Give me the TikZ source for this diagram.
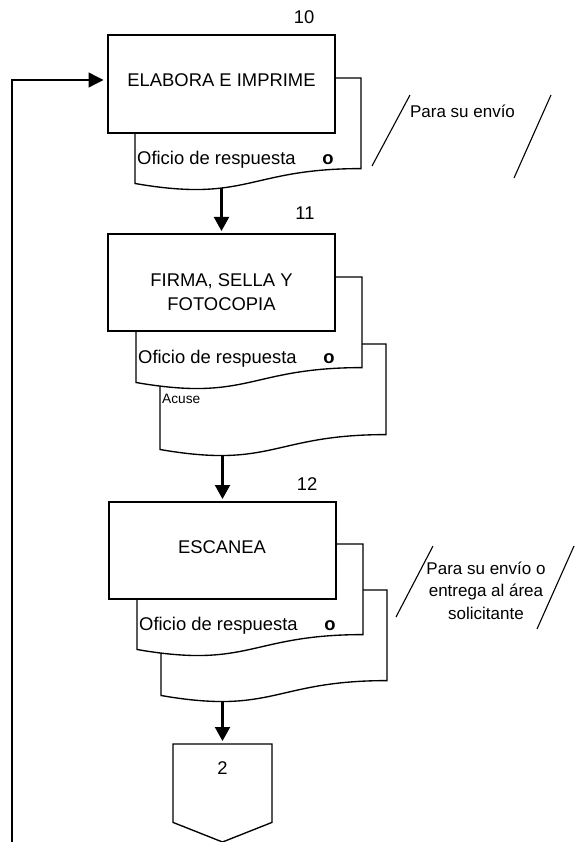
\documentclass[tikz,border=0pt]{standalone}
\usepackage{fontspec}
\setmainfont{Liberation Sans}
\usetikzlibrary{arrows.meta,backgrounds}
\tikzset{
  procbox/.style={draw, line width=2.4pt, fill=white, inner sep=0pt, outer sep=0pt, minimum width=227pt},
  docshape/.style={draw, line width=1.35pt, fill=white, line join=miter},
  flow/.style={line width=2.1pt, -{Triangle[length=14pt,width=15pt]}, shorten >=3pt},
  feedback/.style={line width=1.4pt, -{Triangle[length=15pt,width=15pt]}, shorten >=4.5pt},
  bigtxt/.style={font=\fontsize{18.4}{24}\selectfont, inner sep=0pt},
  boldtxt/.style={font=\fontsize{18.4}{24}\selectfont\bfseries, inner sep=0pt, anchor=base},
  doctxt/.style={font=\fontsize{18.4}{22}\selectfont, inner sep=0pt, anchor=base west},
  smalltxt/.style={font=\fontsize{13.7}{16}\selectfont, inner sep=0pt, anchor=base west},
  notetxt/.style={font=\fontsize{17}{22.6}\selectfont, inner sep=0pt, align=center},
  slash/.style={line width=1.1pt},
}
\newcommand\docsheet[3]{% name, left, top
  \draw[docshape] (#2,#3) coordinate (#1-nw) -- (#2+226,#3) -- (#2+226,#3+90.6) coordinate (#1-se)
    .. controls (#2+113,#3+90.6) and (#2+113,#3+125.1) .. (#2,#3+105.5) coordinate (#1-sw) -- cycle;
  \coordinate (#1-in) at (221.5,#3+100);
}
\begin{document}
\begin{tikzpicture}[x=1pt,y=-1pt]
\useasboundingbox (0,0) rectangle (579,842);

% ---- step 10
\docsheet{d1}{135}{78}
\node[procbox, minimum height=98pt] (b1) at (221.5,84) {};
\node[bigtxt, anchor=base] (t1) at (221.5,87) {ELABORA E IMPRIME};
\node[bigtxt, anchor=base] (n10) at (304,24) {10};
\node[doctxt] (o1) at (137,164.6) {Oficio de respuesta};
\node[boldtxt] (x1) at (328,164.6) {o};

% ---- step 11
\docsheet{d2b}{160}{344}
\docsheet{d2a}{136}{277}
\node[procbox, minimum height=97pt] (b2) at (221.5,282.5) {};
\node[bigtxt, align=center] (t2) at (221.5,292) {FIRMA, SELLA Y\\FOTOCOPIA};
\node[bigtxt, anchor=base] (n11) at (305,219) {11};
\node[doctxt] (o2) at (138,363.6) {Oficio de respuesta};
\node[boldtxt] (x2) at (329,363.6) {o};
\node[smalltxt] (a2) at (162,403) {Acuse};

% ---- step 12
\docsheet{d3b}{161}{590}
\docsheet{d3a}{137}{544}
\node[procbox, minimum height=97pt] (b3) at (222.5,550.5) {};
\node[bigtxt, anchor=base] (t3) at (222,553.6) {ESCANEA};
\node[bigtxt, anchor=base] (n12) at (307,490) {12};
\node[doctxt] (o3) at (139,630.6) {Oficio de respuesta};
\node[boldtxt] (x3) at (330,630.6) {o};

% ---- off-page connector
\coordinate (c2top) at (222.5,744);
\draw[docshape] (173,744) -- (272,744) -- (272,822.4) -- (222.5,842) -- (173,822.4) -- cycle;
\node[bigtxt, anchor=base] (c2) at (222.5,774.6) {2};

% ---- annotations
\draw[slash] (410,95) coordinate (s1a) -- (372,166) coordinate (s1b);
\draw[slash] (551,95) coordinate (s1c) -- (514,178) coordinate (s1d);
\node[notetxt, anchor=base] (p1) at (462.5,118) {Para su envío};
\draw[slash] (433,546) coordinate (s2a) -- (396,617) coordinate (s2b);
\draw[slash] (574,546) coordinate (s2c) -- (537,629) coordinate (s2d);
\node[notetxt] (p2) at (486,590.5) {Para su envío o\\entrega al área\\solicitante};

% ---- connectors
\coordinate (fb) at (12,842);
\draw[feedback] (fb) |- ([yshift=4pt]b1.west);
\begin{scope}[on background layer]
  \draw[flow] (b2.north |- d1-in) -- (b2.north);
  \draw[flow] (b3.north |- d2b-in) -- (b3.north);
  \draw[flow] (c2top |- d3b-in) -- (c2top);
\end{scope}
\end{tikzpicture}
\end{document}
